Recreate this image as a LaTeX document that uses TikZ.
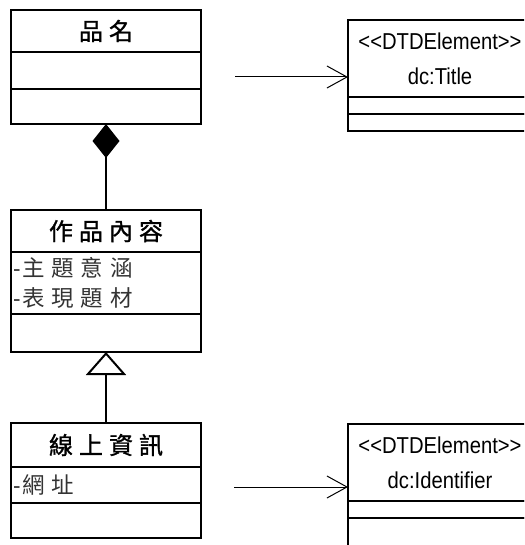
\documentclass[tikz,border=0pt]{standalone}
\usepackage{fontspec}
\setmainfont{Liberation Sans}[FakeStretch=0.88]
\newfontfamily\cjkhead[LetterSpace=25,FakeBold=1.2]{Noto Sans CJK TC}
\newfontfamily\cjkattr[LetterSpace=30]{Noto Sans CJK TC}
\newfontfamily\latinattr{Liberation Sans}
\newcommand\attrdash{{\latinattr -}\kern2pt}
\usetikzlibrary{positioning,arrows.meta}
\tikzset{cls/.style={draw,line width=2pt,outer sep=0pt,inner sep=0pt,minimum width=190pt},
	head/.style={cls,minimum height=#1,font=\cjkhead\fontsize{24}{24}\selectfont},
	attrs/.style={cls,minimum height=#1,text width=186pt,align=left,text=black!80,
		font=\cjkattr\fontsize{22.5}{30}\selectfont},
	dtd/.style={draw,line width=1.2pt,outer sep=0pt,inner sep=0pt,minimum width=184pt},
	dtdhead/.style={dtd,minimum height=77pt,align=center,font=\fontsize{23}{35}\selectfont},
	link/.style={-{Straight Barb[length=20pt,width=22pt]},line width=1pt}}

\begin{document}
\begin{tikzpicture}[x=1pt,y=-1pt]
\useasboundingbox (0,0) rectangle (524,545);
\clip (0,0) rectangle (524,545);
\node [head=42pt] (pm) at (106,31) {品名};
\node [cls,minimum height=37pt,below=0pt of pm] (pma) {};
\node [cls,minimum height=35pt,below=0pt of pma] (pmo) {};
\node [head=42pt] (nr) at (106,231) {作品內容};
\node [attrs=62pt,below=0pt of nr] (nra) {\attrdash 主題意涵\\\attrdash 表現題材};
\node [cls,minimum height=38pt,below=0pt of nra] (nro) {};
\node [head=44pt] (xs) at (106,445) {線上資訊};
\node [attrs=36pt,below=0pt of xs] (xsa) {\attrdash 網址};
\node [cls,minimum height=35pt,below=0pt of xsa] (xso) {};
\node [dtdhead] (dct) at (440,58.5) {<{}<DTDElement>{}>\\dc:Title};
\node [dtd,minimum height=17pt,below=0pt of dct] (dcta) {};
\node [dtd,minimum height=17pt,below=0pt of dcta] (dcto) {};
\node [dtdhead] (dci) at (440,462.5) {<{}<DTDElement>{}>\\dc:Identifier};
\node [dtd,minimum height=17pt,below=0pt of dci] (dcia) {};
\node [dtd,minimum height=35pt,below=0pt of dcia] (dcio) {};
\draw [line width=2pt,{Diamond[length=34pt,width=27pt]}-] (pmo.south) -- (nr.north);
\draw [line width=2pt,-{Triangle[open,length=23pt,width=40pt]}] (xs.north) -- (nro.south);
\coordinate (pmr) at (235,77);
\coordinate (xsr) at (234,487);
\draw [link] (pmr) -- (pmr -| dct.west);
\draw [link] (xsr) -- (xsr -| dci.west);
\end{tikzpicture}
\end{document}
